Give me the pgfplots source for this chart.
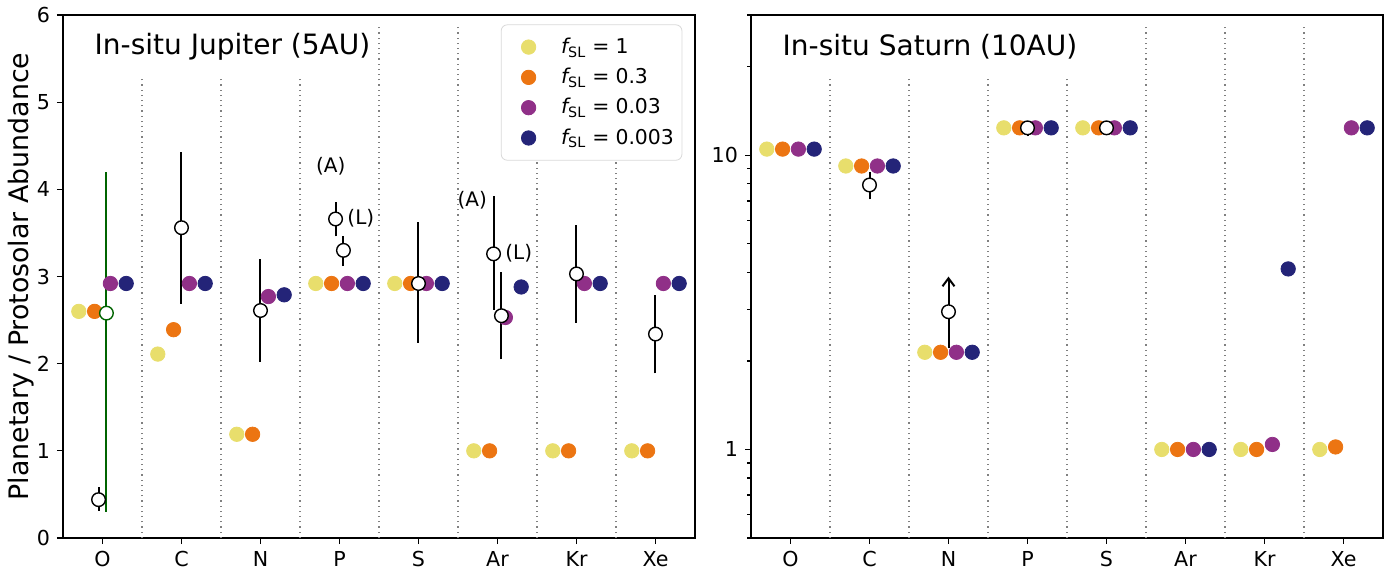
\documentclass[border=0pt]{standalone}
\usepackage{fontspec}
\setmainfont{DejaVu Sans}
\usepackage{pgfplots}
\pgfplotsset{compat=1.18}
\usetikzlibrary{arrows.meta}
\definecolor{cy}{RGB}{232,222,108}
\definecolor{co}{RGB}{236,117,18}
\definecolor{cp}{RGB}{144,48,136}
\definecolor{cn}{RGB}{36,36,120}
\definecolor{dgreen}{RGB}{0,100,0}
\pgfplotsset{
  base/.style={scale only axis, width=316pt, height=261.5pt,
    xmin=-0.5, xmax=7.5, xtick={0,...,7}, xticklabels={O,C,N,P,S,Ar,Kr,Xe},
    tick align=outside, xtick pos=bottom, ytick pos=left,
    major tick length=3pt, minor tick length=2pt,
    every tick/.style={black, line width=0.6pt},
    axis line style={line width=0.7pt},
    tick label style={font=\fontsize{10.3}{12}\selectfont},
    /pgf/number format/assume math mode=true},
  dot/.style={only marks, mark=*, mark size=3.6pt, color=#1},
  ocirc/.style={only marks, mark=*, mark size=3.4pt, forget plot,
    mark options={draw=black, fill=white, line width=0.7pt}},
  eb/.style={black, line width=1pt, forget plot},
  sep/.style={gray, dotted, line width=0.6pt, forget plot},
}
\newcommand{\fsl}[1]{{\itshape f}\textsubscript{SL}\hspace{0.3em}=\hspace{0.3em}#1}
\begin{document}
\begin{tikzpicture}
\begin{axis}[base, ymin=0, ymax=6, ytick={0,...,6},
  every axis y label/.style={at={(axis description cs:-0.066,0.5)}, rotate=90, anchor=center},
  ylabel={Planetary / Protosolar Abundance},
  label style={font=\fontsize{13.4}{15}\selectfont},
  legend style={at={(0.98,0.982)}, anchor=north east, draw=black!15, rounded corners=3pt,
    font=\fontsize{10.2}{12}\selectfont, row sep=1.9pt, inner xsep=2pt, inner ysep=4.5pt},
  legend image code/.code={\path (0pt,0pt) (25.5pt,0pt); \draw[#1] plot coordinates {(11.5pt,0pt)};},
  legend cell align=left]
% separators
\addplot[sep] coordinates {(0.5,0) (0.5,5.3)};
\addplot[sep] coordinates {(1.5,0) (1.5,5.3)};
\addplot[sep] coordinates {(2.5,0) (2.5,5.3)};
\addplot[sep] coordinates {(3.5,0) (3.5,5.87)};
\addplot[sep] coordinates {(4.5,0) (4.5,5.87)};
\addplot[sep] coordinates {(5.5,0) (5.5,5.87)};
\addplot[sep] coordinates {(6.5,0) (6.5,5.87)};
% model dots
\addplot[dot=cy] coordinates {(-0.3,2.60) (0.7,2.11) (1.7,1.19) (2.7,2.92) (3.7,2.92) (4.7,1.0) (5.7,1.0) (6.7,1.0)};
\addlegendentry{\fsl{1}}
\addplot[dot=co] coordinates {(-0.1,2.60) (0.9,2.39) (1.9,1.19) (2.9,2.92) (3.9,2.92) (4.9,1.0) (5.9,1.0) (6.9,1.0)};
\addlegendentry{\fsl{0.3}}
\addplot[dot=cp] coordinates {(0.1,2.92) (1.1,2.92) (2.1,2.77) (3.1,2.92) (4.1,2.92) (5.1,2.53) (6.1,2.92) (7.1,2.92)};
\addlegendentry{\fsl{0.03}}
\addplot[dot=cn] coordinates {(0.3,2.92) (1.3,2.92) (2.3,2.79) (3.3,2.92) (4.3,2.92) (5.3,2.88) (6.3,2.92) (7.3,2.92)};
\addlegendentry{\fsl{0.003}}
% error bars
\addplot[eb, dgreen] coordinates {(0.05,0.30) (0.05,4.20)};
\addplot[eb] coordinates {(-0.05,0.31) (-0.05,0.58)};
\addplot[eb] coordinates {(1,2.69) (1,4.43)};
\addplot[eb] coordinates {(2,2.02) (2,3.20)};
\addplot[eb] coordinates {(2.95,3.46) (2.95,3.85)};
\addplot[eb] coordinates {(3.05,3.12) (3.05,3.47)};
\addplot[eb] coordinates {(4,2.24) (4,3.62)};
\addplot[eb] coordinates {(4.95,2.62) (4.95,3.92)};
\addplot[eb] coordinates {(5.05,2.05) (5.05,3.05)};
\addplot[eb] coordinates {(6,2.47) (6,3.59)};
\addplot[eb] coordinates {(7,1.89) (7,2.79)};
% observations
\addplot[ocirc, mark options={draw=dgreen, fill=white, line width=0.7pt}] coordinates {(0.05,2.58)};
\addplot[ocirc] coordinates {(-0.05,0.44) (1,3.56) (2,2.61) (2.95,3.66) (3.05,3.30) (4,2.92) (4.95,3.26) (5.05,2.55) (6,3.03) (7,2.34)};
\node[font=\fontsize{10}{12}\selectfont] at (axis cs:2.89,4.27) {(A)};
\node[font=\fontsize{10}{12}\selectfont] at (axis cs:3.27,3.67) {(L)};
\node[font=\fontsize{10}{12}\selectfont] at (axis cs:4.68,3.87) {(A)};
\node[font=\fontsize{10}{12}\selectfont] at (axis cs:5.27,3.27) {(L)};
\node[anchor=west, font=\fontsize{14}{16}\selectfont] at (rel axis cs:0.039,0.939) {In-situ Jupiter (5AU)};
\end{axis}
\begin{axis}[base, at={(344pt,0pt)}, ymode=log, ymin=0.5, ymax=30,
  ytick={1,10}, yticklabels={1,10},
  minor ytick={0.5,0.6,0.7,0.8,0.9,2,3,4,5,6,7,8,9,20,30}]
\addplot[sep] coordinates {(0.5,0.5) (0.5,18.6)};
\addplot[sep] coordinates {(1.5,0.5) (1.5,18.6)};
\addplot[sep] coordinates {(2.5,0.5) (2.5,18.6)};
\addplot[sep] coordinates {(3.5,0.5) (3.5,18.6)};
\addplot[sep] coordinates {(4.5,0.5) (4.5,27.4)};
\addplot[sep] coordinates {(5.5,0.5) (5.5,27.4)};
\addplot[sep] coordinates {(6.5,0.5) (6.5,27.4)};
\addplot[dot=cy] coordinates {(-0.3,10.5) (0.7,9.2) (1.7,2.14) (2.7,12.4) (3.7,12.4) (4.7,1.0) (5.7,1.0) (6.7,1.0)};
\addplot[dot=co] coordinates {(-0.1,10.5) (0.9,9.2) (1.9,2.14) (2.9,12.4) (3.9,12.4) (4.9,1.0) (5.9,1.0) (6.9,1.02)};
\addplot[dot=cp] coordinates {(0.1,10.5) (1.1,9.2) (2.1,2.14) (3.1,12.4) (4.1,12.4) (5.1,1.0) (6.1,1.04) (7.1,12.4)};
\addplot[dot=cn] coordinates {(0.3,10.5) (1.3,9.2) (2.3,2.14) (3.3,12.4) (4.3,12.4) (5.3,1.0) (6.3,4.11) (7.3,12.4)};
\addplot[eb] coordinates {(1,7.09) (1,8.75)};
\addplot[eb] coordinates {(3,11.6) (3,13.1)};
\addplot[eb, -{Straight Barb[length=4pt,width=6pt]}] coordinates {(2,2.21) (2,3.87)};
\addplot[ocirc] coordinates {(1,7.93) (2,2.94) (3,12.4) (4,12.4)};
\node[anchor=west, font=\fontsize{14}{16}\selectfont] at (rel axis cs:0.039,0.939) {In-situ Saturn (10AU)};
\end{axis}
\pgfresetboundingbox
\path[use as bounding box] (-31.5pt,-15.5pt) rectangle (667pt,269pt);
\end{tikzpicture}
\end{document}
